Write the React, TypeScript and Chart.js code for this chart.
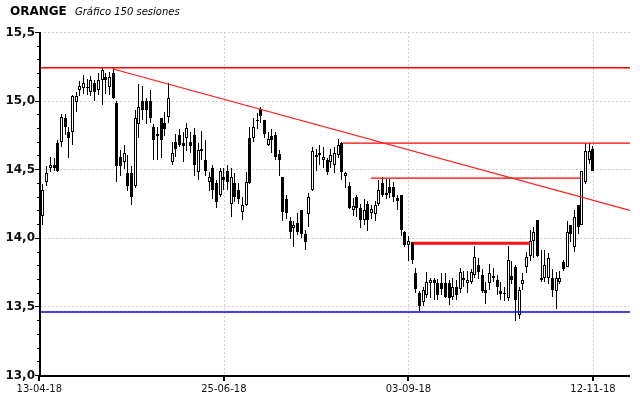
import { useEffect, useRef } from 'react';
import { Chart, registerables } from 'chart.js';

Chart.register(...registerables);

// ---- data (150 sessions) ----
const opens = [
  14.16, 14.41, 14.51, 14.53, 14.69, 14.70, 14.87, 14.77, 14.77, 14.99,
  15.08, 15.09, 15.10, 15.06, 15.13, 15.08, 15.15, 15.17, 15.10, 15.20,
  14.98, 14.59, 14.55, 14.47, 14.47, 14.38, 14.83, 15.00, 15.00, 15.00,
  14.81, 14.76, 14.87, 14.84, 14.88, 14.55, 14.70, 14.75, 14.69, 14.73,
  14.70, 14.75, 14.48, 14.65, 14.57, 14.41, 14.51, 14.40, 14.31, 14.44,
  14.49, 14.25, 14.40, 14.35, 14.19, 14.24, 14.73, 14.73, 14.86, 14.94,
  14.86, 14.68, 14.74, 14.75, 14.61, 14.44, 14.28, 14.12, 14.07, 14.11,
  14.20, 14.03, 14.17, 14.35, 14.59, 14.62, 14.57, 14.57, 14.55, 14.53,
  14.60, 14.69, 14.45, 14.38, 14.20, 14.30, 14.22, 14.13, 14.25, 14.18,
  14.17, 14.25, 14.40, 14.33, 14.37, 14.37, 14.29, 14.31, 14.04, 13.95,
  13.97, 13.74, 13.60, 13.53, 13.58, 13.67, 13.69, 13.67, 13.67, 13.67,
  13.67, 13.57, 13.64, 13.63, 13.71, 13.67, 13.68, 13.73, 13.80, 13.73,
  13.62, 13.67, 13.71, 13.69, 13.61, 13.60, 13.56, 13.72, 13.79, 13.44,
  13.66, 13.79, 13.87, 13.98, 14.13, 13.71, 13.71, 13.71, 13.71, 13.61,
  13.68, 13.82, 13.79, 14.09, 13.93, 14.24, 14.09, 14.41, 14.57, 14.65,
];
const highs = [
  14.39, 14.52, 14.59, 14.58, 14.71, 14.90, 14.90, 14.81, 15.04, 15.06,
  15.14, 15.19, 15.16, 15.18, 15.15, 15.20, 15.24, 15.20, 15.21, 15.24,
  15.00, 14.64, 14.68, 14.60, 14.52, 14.93, 15.12, 15.11, 15.02, 15.08,
  14.83, 14.81, 14.87, 14.92, 15.13, 14.70, 14.76, 14.79, 14.77, 14.84,
  14.77, 14.80, 14.69, 14.78, 14.71, 14.48, 14.53, 14.42, 14.51, 14.51,
  14.53, 14.51, 14.47, 14.40, 14.30, 14.48, 14.81, 14.87, 14.91, 14.95,
  14.86, 14.77, 14.79, 14.77, 14.64, 14.44, 14.31, 14.15, 14.12, 14.18,
  14.20, 14.06, 14.33, 14.66, 14.65, 14.68, 14.66, 14.58, 14.65, 14.66,
  14.72, 14.70, 14.48, 14.41, 14.29, 14.31, 14.25, 14.28, 14.27, 14.24,
  14.27, 14.42, 14.44, 14.43, 14.43, 14.41, 14.31, 14.31, 14.05, 14.01,
  13.97, 13.78, 13.61, 13.64, 13.75, 13.71, 13.71, 13.70, 13.74, 13.74,
  13.69, 13.71, 13.69, 13.78, 13.76, 13.76, 13.77, 13.94, 13.85, 13.77,
  13.68, 13.81, 13.78, 13.73, 13.68, 13.64, 13.94, 13.83, 13.80, 13.64,
  13.74, 13.90, 14.06, 14.08, 14.13, 13.91, 13.91, 13.89, 13.77, 13.75,
  13.76, 13.84, 14.12, 14.09, 14.20, 14.24, 14.49, 14.69, 14.69, 14.67,
];
const lows = [
  14.09, 14.38, 14.48, 14.49, 14.48, 14.66, 14.75, 14.58, 14.68, 14.92,
  15.03, 15.05, 15.04, 15.03, 15.00, 15.04, 14.97, 15.05, 15.04, 15.01,
  14.41, 14.45, 14.50, 14.34, 14.24, 14.36, 14.73, 14.86, 14.83, 14.84,
  14.57, 14.57, 14.58, 14.74, 14.84, 14.53, 14.59, 14.66, 14.55, 14.63,
  14.62, 14.45, 14.42, 14.57, 14.45, 14.34, 14.28, 14.22, 14.30, 14.35,
  14.35, 14.15, 14.26, 14.25, 14.13, 14.23, 14.39, 14.70, 14.79, 14.84,
  14.73, 14.67, 14.62, 14.57, 14.45, 14.12, 14.14, 13.99, 13.93, 14.02,
  14.00, 13.91, 14.08, 14.34, 14.49, 14.53, 14.51, 14.46, 14.51, 14.47,
  14.58, 14.42, 14.36, 14.21, 14.16, 14.15, 14.07, 14.09, 14.05, 14.14,
  14.12, 14.23, 14.30, 14.28, 14.29, 14.26, 14.20, 14.01, 13.93, 13.83,
  13.81, 13.60, 13.47, 13.50, 13.56, 13.56, 13.55, 13.55, 13.58, 13.56,
  13.51, 13.55, 13.55, 13.60, 13.64, 13.60, 13.66, 13.71, 13.70, 13.60,
  13.52, 13.62, 13.68, 13.58, 13.55, 13.54, 13.54, 13.66, 13.39, 13.41,
  13.62, 13.74, 13.83, 13.85, 13.86, 13.68, 13.68, 13.66, 13.57, 13.48,
  13.66, 13.76, 13.79, 13.97, 13.90, 14.03, 14.09, 14.39, 14.54, 14.49,
];
const closes = [
  14.35, 14.47, 14.53, 14.51, 14.49, 14.88, 14.81, 14.73, 15.03, 15.03,
  15.11, 15.13, 15.09, 15.15, 15.06, 15.15, 15.22, 15.15, 15.17, 15.02,
  14.52, 14.52, 14.62, 14.38, 14.30, 14.87, 14.95, 14.93, 14.93, 14.87,
  14.71, 14.74, 14.71, 14.79, 15.02, 14.62, 14.65, 14.68, 14.67, 14.80,
  14.67, 14.53, 14.64, 14.63, 14.49, 14.44, 14.35, 14.26, 14.49, 14.42,
  14.41, 14.44, 14.30, 14.28, 14.24, 14.41, 14.40, 14.81, 14.85, 14.89,
  14.76, 14.72, 14.71, 14.59, 14.57, 14.19, 14.18, 14.04, 14.09, 14.04,
  14.03, 13.97, 14.30, 14.63, 14.60, 14.60, 14.59, 14.48, 14.60, 14.62,
  14.68, 14.48, 14.47, 14.22, 14.23, 14.22, 14.13, 14.20, 14.13, 14.21,
  14.24, 14.35, 14.31, 14.31, 14.33, 14.30, 14.27, 14.06, 13.95, 13.98,
  13.84, 13.63, 13.50, 13.62, 13.68, 13.69, 13.67, 13.58, 13.63, 13.57,
  13.56, 13.64, 13.58, 13.75, 13.69, 13.69, 13.75, 13.86, 13.75, 13.61,
  13.60, 13.74, 13.72, 13.64, 13.59, 13.59, 13.84, 13.69, 13.55, 13.62,
  13.69, 13.86, 13.98, 14.04, 13.87, 13.69, 13.80, 13.85, 13.62, 13.71,
  13.71, 13.77, 14.04, 14.03, 14.15, 14.08, 14.49, 14.63, 14.63, 14.49,
];

const sessionTickIdx = [-1, 49, 99, 149];
const sessionTickLabels = ['13-04-18', '25-06-18', '03-09-18', '12-11-18'];
const priceTicks = [13.0, 13.5, 14.0, 14.5, 15.0, 15.5];

const resistanceLevel = 15.24;
const supportLevel = 13.46;
const trendFrom = [19, 15.23];
const trendTo = [159.03, 14.2];
const upperLevel = [14.69, 81.2, 159.03];
const midLevel = [14.435, 88.9, 145.8];
const lowerLevel = [13.96, 100.3, 131.9];

const X_MIN = -0.81;
const X_MAX = 159.03;
const Y_MIN = 13.0;
const Y_MAX = 15.5;

const fmt = (v: number) => v.toFixed(1).replace('.', ',');

export default function App() {
  const ref = useRef<HTMLCanvasElement>(null);

  useEffect(() => {
    const canvas = ref.current!;
    const idx = opens.map((_, i) => i);
    const wickData = idx.map((i) => ({ x: i, y: [lows[i], highs[i]] }));
    const bodyData = idx.map((i) => ({
      x: i,
      y: [Math.min(opens[i], closes[i]), Math.max(opens[i], closes[i])],
    }));
    const bodyFill = idx.map((i) => (closes[i] >= opens[i] ? '#ffffff' : '#000000'));
    const hline = (y: number, a: number, b: number) => [
      { x: a, y },
      { x: b, y },
    ];

    const crisp = {
      id: 'crisp',
      beforeDatasetsDraw(chart: any) {
        chart.data.datasets.forEach((ds: any, di: number) => {
          if (ds.type !== 'bar') return;
          const meta = chart.getDatasetMeta(di);
          meta.data.forEach((el: any) => {
            el.x = Math.floor(el.x) + 0.5;
            el.y = Math.round(el.y);
            el.base = Math.round(el.base);
            if (el.y === el.base) el.y = el.base - 1;
          });
        });
      },
    };

    const frame = {
      id: 'frame',
      beforeDatasetsDraw(chart: any) {
        const { ctx, chartArea: a, scales } = chart;
        const x = scales.x;
        const y = scales.y;
        ctx.save();
        ctx.strokeStyle = '#d2ccd6';
        ctx.lineWidth = 1;
        ctx.setLineDash([2, 2]);
        priceTicks.forEach((v) => {
          if (v === Y_MIN) return;
          const py = Math.round(y.getPixelForValue(v)) + 0.5;
          ctx.beginPath();
          ctx.moveTo(a.left, py);
          ctx.lineTo(a.right, py);
          ctx.stroke();
        });
        sessionTickIdx.forEach((v) => {
          const px = Math.round(x.getPixelForValue(v)) + 0.5;
          if (px <= a.left + 3) return;
          ctx.beginPath();
          ctx.moveTo(px, a.top);
          ctx.lineTo(px, a.bottom);
          ctx.stroke();
        });
        ctx.restore();
      },
      afterDatasetsDraw(chart: any) {
        const { ctx, chartArea: a, scales } = chart;
        const x = scales.x;
        const y = scales.y;
        ctx.save();
        ctx.fillStyle = '#000';
        // axes
        ctx.fillRect(a.left - 1, a.top, 2, a.bottom - a.top + 2);
        ctx.fillRect(a.left - 1, a.bottom, a.right - a.left + 1, 2);
        // y ticks
        for (let k = 0; k <= 25; k++) {
          const v = Y_MIN + k * 0.1;
          const py = Math.round(y.getPixelForValue(v));
          if (k % 5 === 0) ctx.fillRect(a.left - 5, py, 5, 1);
          else ctx.fillRect(a.left - 3, py, 3, 1);
        }
        // x ticks
        sessionTickIdx.forEach((v) => {
          const px = Math.round(x.getPixelForValue(v));
          ctx.fillRect(px - 1, a.bottom, 2, 6);
        });
        // y labels
        ctx.fillStyle = '#111';
        ctx.font = 'bold 12px "DejaVu Sans"';
        ctx.textAlign = 'right';
        ctx.textBaseline = 'middle';
        priceTicks.forEach((v) => {
          ctx.fillText(fmt(v), a.left - 5, y.getPixelForValue(v) + 0.5);
        });
        // x labels
        ctx.font = '10px "DejaVu Sans"';
        ctx.textAlign = 'center';
        sessionTickIdx.forEach((v, k) => {
          ctx.fillText(sessionTickLabels[k], x.getPixelForValue(v), 389);
        });
        // title
        ctx.textAlign = 'left';
        ctx.textBaseline = 'alphabetic';
        ctx.fillStyle = '#000';
        ctx.font = 'bold 12px "DejaVu Sans"';
        ctx.fillText('ORANGE', 10, 15);
        ctx.font = 'italic 10px "DejaVu Sans"';
        ctx.fillText('Gráfico 150 sesiones', 75, 15);
        ctx.restore();
      },
    };

    const lineDs = (data: any[], color: string, width: number) => ({
      type: 'line',
      data,
      borderColor: color,
      borderWidth: width,
      pointRadius: 0,
      fill: false,
      tension: 0,
      order: 1,
    });

    const chart = new Chart(canvas, {
      type: 'bar',
      data: {
        datasets: [
          {
            type: 'bar',
            data: wickData,
            backgroundColor: '#000',
            borderWidth: 0,
            barThickness: 1,
            grouped: false,
            inflateAmount: 0,
            order: 3,
          },
          {
            type: 'bar',
            data: bodyData,
            backgroundColor: bodyFill,
            borderColor: '#000',
            borderWidth: 1,
            borderSkipped: false,
            barThickness: 3,
            grouped: false,
            inflateAmount: 0,
            order: 2,
          },
          lineDs(hline(resistanceLevel, X_MIN, X_MAX), '#ff0000', 1.5),
          lineDs(hline(supportLevel, X_MIN, X_MAX), '#0000ff', 1.5),
          lineDs(
            [
              { x: trendFrom[0], y: trendFrom[1] },
              { x: trendTo[0], y: trendTo[1] },
            ],
            '#ff1a1a',
            1.2
          ),
          lineDs(hline(upperLevel[0], upperLevel[1], upperLevel[2]), '#ff0000', 1.2),
          lineDs(hline(midLevel[0], midLevel[1], midLevel[2]), '#ff0000', 1.3),
          lineDs(hline(lowerLevel[0], lowerLevel[1], lowerLevel[2]), '#ff1010', 3),
        ] as any,
      },
      options: {
        responsive: false,
        animation: false,
        devicePixelRatio: 1,
        layout: { padding: { left: 40, right: 10, top: 32, bottom: 23 } },
        plugins: {
          legend: { display: false },
          tooltip: { enabled: false },
          title: { display: false },
        },
        scales: {
          x: {
            type: 'linear',
            min: X_MIN,
            max: X_MAX,
            offset: false,
            display: false,
          },
          y: {
            type: 'linear',
            min: Y_MIN,
            max: Y_MAX,
            display: false,
          },
        },
      } as any,
      plugins: [frame, crisp],
    });
    return () => chart.destroy();
  }, []);

  return (
    <div style={{ position: 'absolute', left: 0, top: 0, width: 640, height: 398, background: '#fff' }}>
      <canvas ref={ref} width={640} height={398} style={{ display: 'block' }} />
    </div>
  );
}
